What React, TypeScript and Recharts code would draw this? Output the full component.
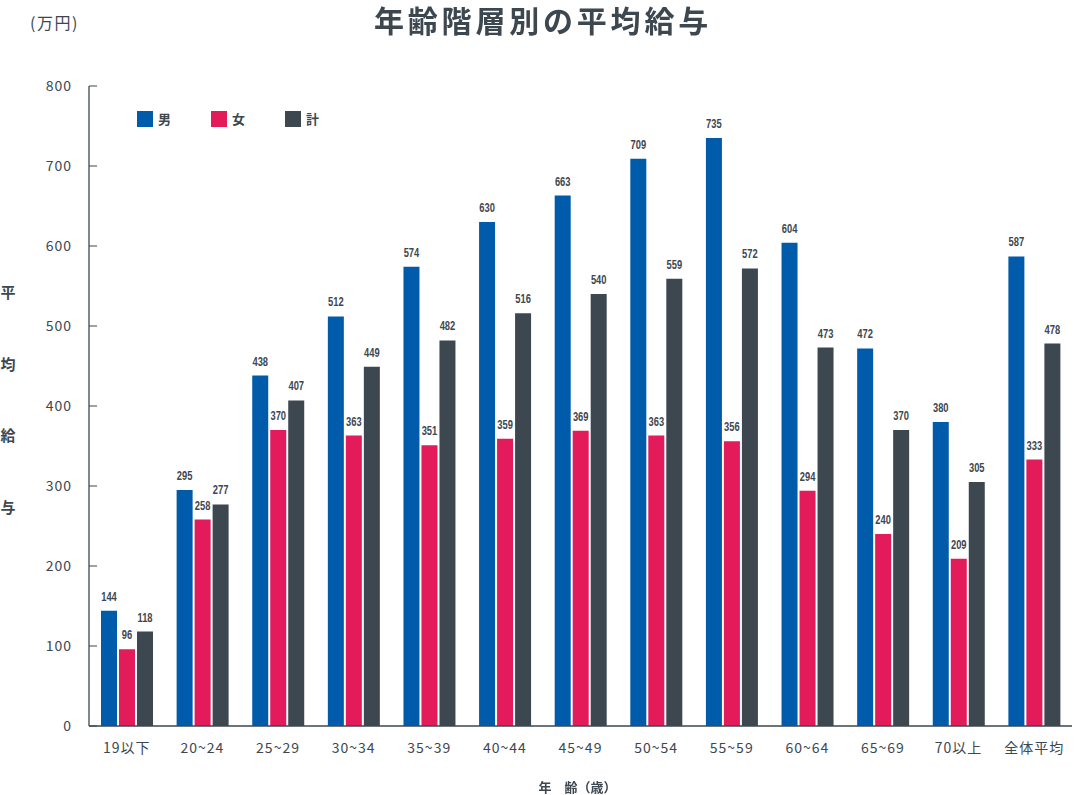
import React from 'react';
import { BarChart, Bar, XAxis, YAxis, LabelList } from 'recharts';

const categories = ['19以下', '20~24', '25~29', '30~34', '35~39', '40~44', '45~49', '50~54', '55~59', '60~64', '65~69', '70以上', '全体平均'];
const male = [144, 295, 438, 512, 574, 630, 663, 709, 735, 604, 472, 380, 587];
const female = [96, 258, 370, 363, 351, 359, 369, 363, 356, 294, 240, 209, 333];
const total = [118, 277, 407, 449, 482, 516, 540, 559, 572, 473, 370, 305, 478];
const yTicks = [0, 100, 200, 300, 400, 500, 600, 700, 800];
const seriesNames = ['男', '女', '計'];
const seriesColors = ['#005BAB', '#E31B5A', '#3D4750'];

const data = categories.map((c, i) => ({ name: c, male: male[i], female: female[i], total: total[i] }));

const TEXT = '#3D4750';
const FONT = "'Noto Sans CJK JP', 'Noto Sans', sans-serif";

const YTick = (props: any) => {
  const { y, payload } = props;
  return (
    <g>
      <line x1={89} x2={97} y1={y} y2={y} stroke={TEXT} strokeWidth={1} />
      <text x={72} y={y + 5} textAnchor="end" fill={TEXT} fontSize={14} fontFamily={FONT} letterSpacing={1}>
        {payload.value}
      </text>
    </g>
  );
};

const XTick = (props: any) => {
  const { x, payload } = props;
  return (
    <text x={x} y={753} textAnchor="middle" fill={TEXT} fontSize={14} fontFamily={FONT} letterSpacing={1}>
      {payload.value}
    </text>
  );
};

const renderBarLabel = (props: any) => {
  const { x, y, width, value } = props;
  const cx = Number(x) + Number(width) / 2;
  const ty = Number(y) - 10;
  return (
    <text
      transform={`translate(${cx},${ty}) scale(0.72,1)`}
      x={0}
      y={0}
      textAnchor="middle"
      fill={TEXT}
      fontSize={13}
      fontWeight="bold"
      fontFamily="'Liberation Sans', Arial, sans-serif"
    >
      {value}
    </text>
  );
};

export default function App() {
  return (
    <div style={{ position: 'fixed', left: 0, top: 0, width: 1080, height: 795, background: '#fff', fontFamily: FONT }}>
      <BarChart
        width={1080}
        height={795}
        data={data}
        margin={{ top: 86, right: 8, bottom: 39, left: 0 }}
        barSize={16}
        barGap={2}
        style={{ position: 'absolute', left: 0, top: 0 }}
      >
        <XAxis
          dataKey="name"
          axisLine={{ stroke: TEXT, strokeWidth: 1.3 }}
          tickLine={false}
          tick={<XTick />}
          height={30}
          interval={0}
        />
        <YAxis
          domain={[0, 800]}
          ticks={yTicks}
          width={89}
          axisLine={{ stroke: TEXT, strokeWidth: 1.3 }}
          tickLine={false}
          tick={<YTick />}
          interval={0}
        />
        <Bar dataKey="male" name="男" fill={seriesColors[0]} isAnimationActive={false}>
          <LabelList dataKey="male" content={renderBarLabel} />
        </Bar>
        <Bar dataKey="female" name="女" fill={seriesColors[1]} isAnimationActive={false}>
          <LabelList dataKey="female" content={renderBarLabel} />
        </Bar>
        <Bar dataKey="total" name="計" fill={seriesColors[2]} isAnimationActive={false}>
          <LabelList dataKey="total" content={renderBarLabel} />
        </Bar>
      </BarChart>
      <div
        style={{
          position: 'absolute',
          left: 290,
          width: 500,
          top: 3,
          paddingLeft: 6,
          boxSizing: 'border-box',
          textAlign: 'center',
          fontSize: 30,
          fontWeight: 'bold',
          color: TEXT,
          letterSpacing: 3.8,
          lineHeight: '32px',
          whiteSpace: 'nowrap',
        }}
      >
        年齢階層別の平均給与
      </div>
      <div style={{ position: 'absolute', left: 30, top: 12, fontSize: 16, color: TEXT, lineHeight: '20px', letterSpacing: 1.5 }}>(万円)</div>
      {['平', '均', '給', '与'].map((ch, i) => (
        <div
          key={ch}
          style={{ position: 'absolute', left: 0, width: 16, textAlign: 'center', top: 282 + i * 71.7, fontSize: 15, fontWeight: 'bold', color: TEXT, lineHeight: '20px' }}
        >
          {ch}
        </div>
      ))}
      <div style={{ position: 'absolute', left: 480, width: 195, textAlign: 'center', top: 777, fontSize: 13, fontWeight: 'bold', color: TEXT, lineHeight: '20px' }}>
        年　齢（歳）
      </div>
      <div style={{ position: 'absolute', left: 137, top: 111, display: 'flex' }}>
        {seriesNames.map((n, i) => (
          <div key={n} style={{ display: 'flex', alignItems: 'center', width: 74 }}>
            <div style={{ width: 16, height: 16, background: seriesColors[i] }} />
            <span style={{ marginLeft: 5, fontSize: 13, fontWeight: 'bold', color: TEXT, lineHeight: '16px' }}>{n}</span>
          </div>
        ))}
      </div>
    </div>
  );
}
